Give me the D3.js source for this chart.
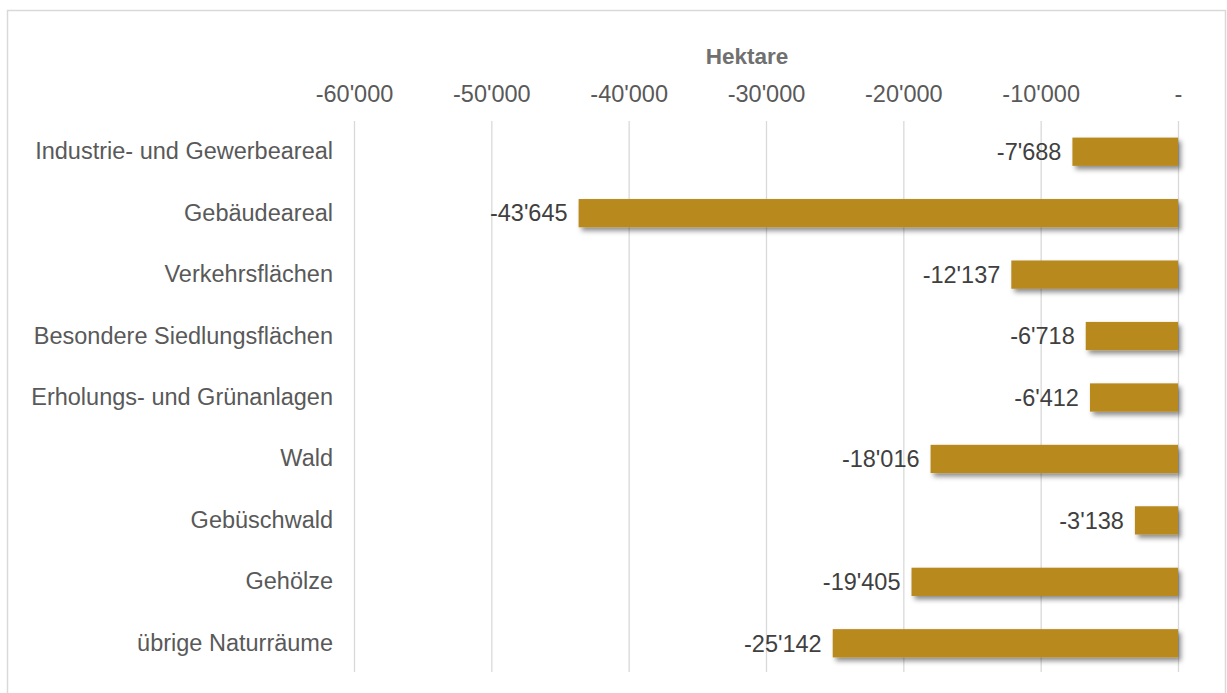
<!DOCTYPE html>
<html>
<head>
<meta charset="utf-8">
<script src="https://cdn.jsdelivr.net/npm/d3@7"></script>
<style>
  body { margin: 0; background: #fff; }
  text { font-family: "Liberation Sans", Arial, sans-serif; }
</style>
</head>
<body>
<div id="chart"></div>
<script>
/* DATA */
const categories = [
  "Industrie- und Gewerbeareal",
  "Gebäudeareal",
  "Verkehrsflächen",
  "Besondere Siedlungsflächen",
  "Erholungs- und Grünanlagen",
  "Wald",
  "Gebüschwald",
  "Gehölze",
  "übrige Naturräume"
];
const values = [-7688, -43645, -12137, -6718, -6412, -18016, -3138, -19405, -25142];
const xTicks = [-60000, -50000, -40000, -30000, -20000, -10000, 0];
const axisTitle = "Hektare";

/* CONSTANTS */
const width = 1227,
  height = 693,
  margin = { top: 121, bottom: 19, left: 354, right: 49 },
  fontSize = 23.5;

const data = categories.map((c, i) => ({ category: c, value: values[i] }));

// swiss style thousands separator, plain hyphen as minus
const ch = d3.formatLocale({ decimal: ".", thousands: "'", grouping: [3], currency: ["", ""], minus: "-" });
const fmt = v => v === 0 ? "-" : ch.format(",")(v);

const svg = d3.select("#chart")
  .append("svg")
  .attr("width", width)
  .attr("height", height);

// drop shadow for bars
const defs = svg.append("defs");
defs.append("filter")
  .attr("id", "shadow")
  .attr("x", "-10%").attr("y", "-40%")
  .attr("width", "130%").attr("height", "200%")
  .append("feDropShadow")
  .attr("dx", 3).attr("dy", 3.5)
  .attr("stdDeviation", 2.8)
  .attr("flood-color", "#000")
  .attr("flood-opacity", 0.45);

// chart frame
svg.append("rect")
  .attr("x", 7.5).attr("y", 10.5)
  .attr("width", 1218).attr("height", 700)
  .attr("fill", "none")
  .attr("stroke", "#d9d9d9")
  .attr("stroke-width", 1.5);

/* SCALES */
const xScale = d3.scaleLinear()
  .domain([-60000, 0])
  .range([margin.left, width - margin.right]);

const yScale = d3.scaleBand()
  .domain(categories)
  .range([margin.top, height - margin.bottom])
  .paddingInner(0.54)
  .paddingOuter(0.27);

/* GRID */
svg.append("g")
  .selectAll("line")
  .data(xTicks)
  .join("line")
  .attr("x1", d => xScale(d) + 0.5)
  .attr("x2", d => xScale(d) + 0.5)
  .attr("y1", margin.top)
  .attr("y2", height - 21)
  .attr("stroke", "#d9d9d9")
  .attr("stroke-width", 1.3);

/* X AXIS (top) */
const xAxis = d3.axisTop(xScale)
  .tickValues(xTicks)
  .tickFormat(fmt)
  .tickSize(0)
  .tickPadding(0);

const xAxisGroup = svg.append("g")
  .attr("transform", `translate(0, 102)`)
  .call(xAxis);
xAxisGroup.select(".domain").remove();
xAxisGroup.selectAll("text")
  .attr("font-size", fontSize)
  .attr("fill", "#595959")
  .attr("font-family", "Liberation Sans, Arial, sans-serif");

svg.append("text")
  .attr("x", 747)
  .attr("y", 64)
  .attr("text-anchor", "middle")
  .attr("font-size", fontSize - 1)
  .attr("font-weight", "bold")
  .attr("fill", "#707070")
  .text(axisTitle);

/* Y AXIS (category labels) */
const yAxis = d3.axisLeft(yScale).tickSize(0).tickPadding(0);
const yAxisGroup = svg.append("g")
  .attr("transform", `translate(333, 0)`)
  .call(yAxis);
yAxisGroup.select(".domain").remove();
yAxisGroup.selectAll("text")
  .attr("font-size", fontSize)
  .attr("fill", "#595959")
  .attr("font-family", "Liberation Sans, Arial, sans-serif");

/* BARS */
svg.append("g")
  .selectAll("rect")
  .data(data)
  .join("rect")
  .attr("x", d => xScale(d.value))
  .attr("y", d => yScale(d.category))
  .attr("width", d => xScale(0) - xScale(d.value))
  .attr("height", yScale.bandwidth())
  .attr("fill", "#b8891f")
  .attr("filter", "url(#shadow)");

/* VALUE LABELS */
svg.append("g")
  .selectAll("text")
  .data(data)
  .join("text")
  .attr("x", d => xScale(d.value) - 11)
  .attr("y", d => yScale(d.category) + yScale.bandwidth() / 2)
  .attr("dy", "0.35em")
  .attr("text-anchor", "end")
  .attr("font-size", fontSize)
  .attr("fill", "#404040")
  .text(d => fmt(d.value));
</script>
</body>
</html>
